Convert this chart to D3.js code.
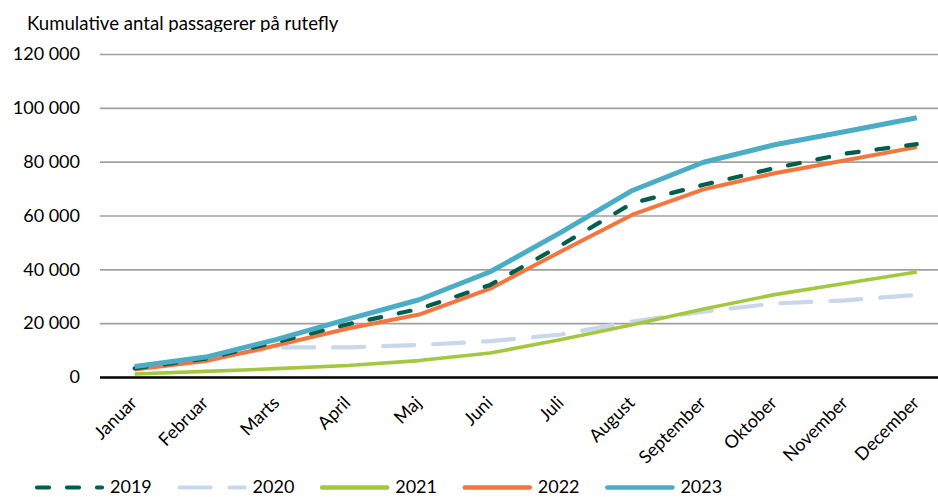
<!DOCTYPE html>
<html>
<head>
<meta charset="utf-8">
<script src="https://cdn.jsdelivr.net/npm/d3@7/dist/d3.min.js"></script>
<style>
  html, body { margin: 0; padding: 0; background: #ffffff; }
  svg { display: block; }
  text { font-family: Lato, "Open Sans", sans-serif; fill: #000; }
</style>
</head>
<body>
<svg id="chart" width="938" height="497"></svg>
<script>
// ---- data ----
const months = ["Januar","Februar","Marts","April","Maj","Juni","Juli","August","September","Oktober","November","December"];
const years = ["2019","2020","2021","2022","2023"];
const v2019 = [3200, 6800, 13000, 19600, 25300, 34200, 49000, 64600, 71400, 77600, 83000, 86500];
const v2020 = [3200, 6800, 11000, 11000, 11900, 13300, 15800, 20600, 24300, 27300, 28500, 30500];
const v2021 = [1100, 2100, 3100, 4300, 6100, 8900, 13900, 19400, 25300, 30600, 34800, 39000];
const v2022 = [2800, 5900, 11800, 18000, 23200, 32800, 46700, 60300, 69700, 75700, 80500, 85400];
const v2023 = [3900, 7400, 14000, 21500, 28700, 39100, 53800, 69300, 79800, 86300, 91200, 96300];
const yTicks = [0, 20000, 40000, 60000, 80000, 100000, 120000];
const titleText = "Kumulative antal passagerer på rutefly";

// ---- styles ----
const seriesStyle = {
  "2019": { values: v2019, color: "#005f4c", width: 4.2, dash: "12,18" },
  "2020": { values: v2020, color: "#c8d7ea", width: 4.2, dash: "31,19" },
  "2021": { values: v2021, color: "#a3c83f", width: 3.6, dash: null },
  "2022": { values: v2022, color: "#f5753f", width: 4.0, dash: null },
  "2023": { values: v2023, color: "#4bacc6", width: 5.0, dash: null }
};
const drawOrder = ["2020", "2021", "2022", "2019", "2023"];

const svg = d3.select("#chart");
const plotLeft = 100, plotRight = 952, plotTop = 54, plotBottom = 377;

const x = d3.scalePoint().domain(months).range([134.7, 916.8]);
const y = d3.scaleLinear().domain([0, 120000]).range([plotBottom, plotTop]);

const loc = d3.formatLocale({ decimal: ",", thousands: " ", grouping: [3], currency: ["", ""] });
const fmt = loc.format(",d");

// title (clipped at bottom as in reference)
svg.append("clipPath").attr("id", "titleClip")
  .append("rect").attr("x", 0).attr("y", 0).attr("width", 938).attr("height", 32);
svg.append("text")
  .attr("clip-path", "url(#titleClip)")
  .attr("x", 27).attr("y", 30)
  .style("font-size", "18.6px")
  .text(titleText);

// y axis + grid
const yAxis = d3.axisLeft(y).tickValues(yTicks).tickFormat(fmt)
  .tickSize(-(plotRight - plotLeft)).tickPadding(20);
const gy = svg.append("g").attr("transform", `translate(${plotLeft},0)`).call(yAxis);
gy.select(".domain").remove();
gy.selectAll(".tick line").attr("stroke", "#a0a0a0").attr("stroke-width", 1.6);
gy.selectAll(".tick text").style("font-size", "18px").attr("fill", "#000");
gy.selectAll(".tick").filter(d => d === 0).select("line").attr("stroke", "#000").attr("stroke-width", 2.6);

// x axis
const xAxis = d3.axisBottom(x).tickSize(0);
const gx = svg.append("g").attr("transform", `translate(0,${plotBottom})`).call(xAxis);
gx.select(".domain").remove();
gx.selectAll(".tick text")
  .style("font-size", "18px").attr("fill", "#000")
  .attr("text-anchor", "end").attr("dy", null).attr("x", 0).attr("y", 0)
  .attr("transform", "translate(3,27) rotate(-45)");

// lines
const line = d3.line().x((d, i) => x(months[i])).y(d => y(d));
drawOrder.forEach(k => {
  const s = seriesStyle[k];
  svg.append("path")
    .datum(s.values)
    .attr("fill", "none")
    .attr("stroke", s.color)
    .attr("stroke-width", s.width)
    .attr("stroke-linecap", s.dash ? "round" : "butt")
    .attr("stroke-linejoin", "round")
    .attr("stroke-dasharray", s.dash)
    .attr("d", line);
});

// legend
const legX0 = 35, legStep = 142.6, legY = 487.5;
years.forEach((k, i) => {
  const s = seriesStyle[k];
  const lx = legX0 + i * legStep;
  svg.append("line")
    .attr("x1", lx + 2).attr("x2", lx + 67).attr("y1", legY).attr("y2", legY)
    .attr("stroke", s.color).attr("stroke-width", s.dash ? 4.2 : 4.6)
    .attr("stroke-linecap", "round")
    .attr("stroke-dasharray", s.dash);
  svg.append("text")
    .attr("x", lx + 75).attr("y", 492.5)
    .style("font-size", "18px")
    .text(k);
});
</script>
</body>
</html>
